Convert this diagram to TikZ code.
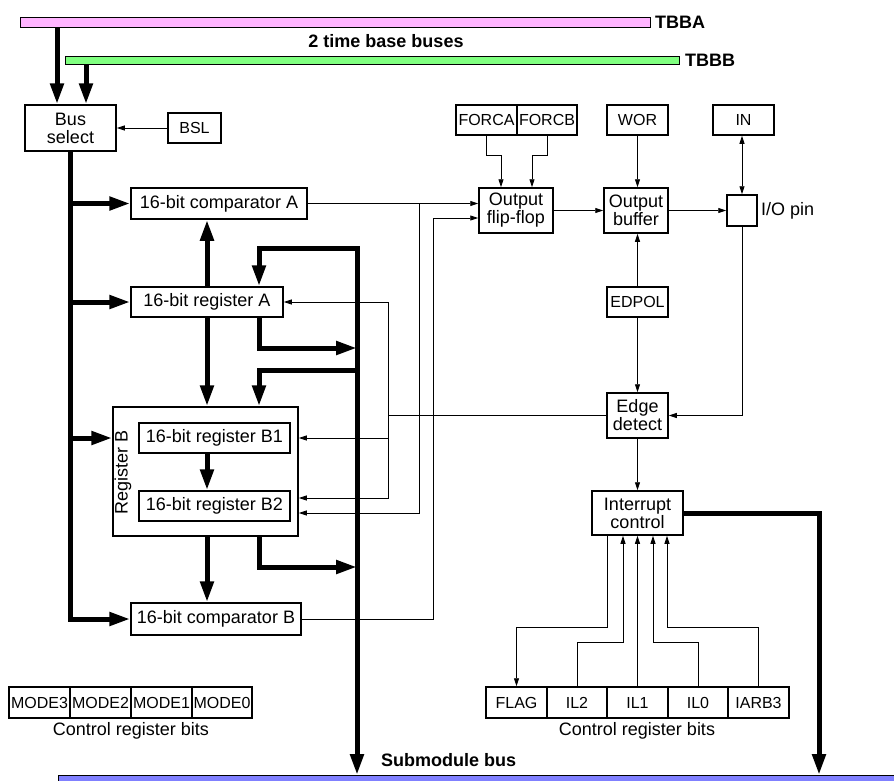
\documentclass[tikz,border=0pt]{standalone}
\usepackage{fontspec}
\setmainfont{Liberation Sans}
\usetikzlibrary{arrows.meta}
\definecolor{busA}{RGB}{255,180,255}
\definecolor{busB}{RGB}{128,255,128}
\definecolor{busS}{RGB}{128,128,255}
\newcommand\fsA{\fontsize{18}{18}\selectfont}
\newcommand\fsB{\fontsize{16}{16}\selectfont}
\newcommand\fsL{\fontsize{18}{18}\selectfont\bfseries}
\begin{document}
\begin{tikzpicture}[x=1pt,y=-1pt,
  blk/.style={draw,line width=1.5pt,inner sep=0pt,font=\fsA,align=center},
  bit/.style={draw,line width=1.5pt,inner sep=0pt,font=\fsB,minimum width=61pt,minimum height=31pt},
  tk/.style={line width=5pt,-{Triangle[length=21pt,width=13pt]}},
  tkb/.style={line width=5pt,{Triangle[length=21pt,width=13pt]}-{Triangle[length=21pt,width=13pt]}},
  tn/.style={line width=0.9pt,-{Triangle[length=8pt,width=5pt]}},
  tnb/.style={line width=0.9pt,{Triangle[length=8pt,width=5pt]}-{Triangle[length=8pt,width=5pt]}},
  ln/.style={line width=0.9pt},
  lbl/.style={font=\fsA,inner sep=0pt},
  blbl/.style={font=\fsL,inner sep=0pt}]
\useasboundingbox (0,0) rectangle (894,780);

% buses
\draw[line width=1pt,fill=busA] (20,17) rectangle (650,27);
\draw[line width=1pt,fill=busB] (65,56) rectangle (679,64);
\begin{scope}
\clip (0,0) rectangle (894,780);
\draw[line width=1pt,fill=busS] (58,775) rectangle (900,790);
\end{scope}
\node[blbl,anchor=west] (tbba) at (655,22) {TBBA};
\node[blbl,anchor=west] (tbbb) at (685,60) {TBBB};
\node[blbl] (tbl) at (386,41) {2 time base buses};
\node[blbl,anchor=west] (sbl) at (381,760) {Submodule bus};

% left blocks
\node[blk,minimum width=91pt,minimum height=46pt] (bussel) at (70.5,128) {Bus\\select};
\node[blk,minimum width=53pt,minimum height=30pt,font=\fsB] (bsl) at (194.5,128) {BSL};
\node[blk,minimum width=176pt,minimum height=31pt] (compA) at (219,203.5) {16-bit comparator A};
\node[blk,minimum width=152pt,minimum height=30pt] (regA) at (207,302) {16-bit register A};
\node[blk,minimum width=185pt,minimum height=129pt] (regB) at (205.5,471.5) {};
\node[blk,minimum width=151pt,minimum height=30pt] (b1) at (214.5,438) {16-bit register B1};
\node[blk,minimum width=151pt,minimum height=30pt] (b2) at (214.5,506) {16-bit register B2};
\node[blk,minimum width=170pt,minimum height=32pt] (compB) at (216,619) {16-bit comparator B};
\node[lbl,rotate=90] (rbl) at (123,472) {Register B};

% right blocks
\node[blk,minimum width=61pt,minimum height=30pt,font=\fsB] (forca) at (486.5,120) {FORCA};
\node[blk,minimum width=60pt,minimum height=30pt,font=\fsB] (forcb) at (547,120) {FORCB};
\node[blk,minimum width=61pt,minimum height=30pt,font=\fsB] (wor) at (637.5,120) {WOR};
\node[blk,minimum width=61pt,minimum height=30pt,font=\fsB] (innode) at (743.5,120) {IN};
\node[blk,minimum width=74pt,minimum height=45pt] (off) at (516,210.5) {Output\\flip-flop};
\node[blk,minimum width=64pt,minimum height=45pt] (obuf) at (636,210.5) {Output\\buffer};
\node[blk,minimum width=30pt,minimum height=31pt] (iopin) at (742,210.5) {};
\node[lbl,anchor=west] (iol) at (761,211) {I/O pin};
\node[blk,minimum width=61pt,minimum height=30pt,font=\fsB] (edpol) at (637.5,302) {EDPOL};
\node[blk,minimum width=61pt,minimum height=45pt] (edge) at (637.5,415.5) {Edge\\detect};
\node[blk,minimum width=91pt,minimum height=44pt] (intc) at (637.5,513) {Interrupt\\control};

% control bits
\node[bit] (flag) at (516.5,702.5) {FLAG};
\node[bit,minimum width=60pt] (il2) at (577,702.5) {IL2};
\node[bit] (il1) at (637.5,702.5) {IL1};
\node[bit,minimum width=60pt] (il0) at (698,702.5) {IL0};
\node[bit] (iarb) at (758.5,702.5) {IARB3};
\node[lbl] (crb2) at (637,731) {Control register bits};
\node[bit] (m3) at (39.5,702.5) {MODE3};
\node[bit] (m2) at (100.5,702.5) {MODE2};
\node[bit] (m1) at (161.5,702.5) {MODE1};
\node[bit,minimum width=60pt] (m0) at (222,702.5) {MODE0};
\node[lbl] (crb1) at (131,731) {Control register bits};

% coordinates
\coordinate (ta1) at (57,27);
\coordinate (tb1) at (86,64);
\coordinate (s1) at (357,248);
\coordinate (s2) at (259,248);
\coordinate (s3) at (357,370);
\coordinate (s4) at (259,370);
\coordinate (s5) at (259,348);
\coordinate (s6) at (357,348);
\coordinate (s7) at (259,567);
\coordinate (s8) at (357,567);
\coordinate (sb1) at (357,775);
\coordinate (t1) at (819,513);
\coordinate (t2) at (819,775);
\coordinate (a1) at (388,302);
\coordinate (a2) at (388,415.5);
\coordinate (a3) at (388,438);
\coordinate (a4) at (388,498);
\coordinate (pa) at (419,203.5);
\coordinate (pb) at (419,513);
\coordinate (qa) at (433,619);
\coordinate (qb) at (433,218);
\coordinate (fa1) at (486.5,155);
\coordinate (fa2) at (501,155);
\coordinate (fb1) at (547,155);
\coordinate (fb2) at (532,155);
\coordinate (f1) at (607,627);
\coordinate (f2) at (516.5,627);
\coordinate (g1) at (577,642);
\coordinate (g2) at (623,642);
\coordinate (h1) at (698,642);
\coordinate (h2) at (653,642);
\coordinate (k1) at (758.5,627);
\coordinate (k2) at (667,627);

% thick connectors
\draw[tk] (ta1) -- (ta1 |- bussel.north);
\draw[tk] (tb1) -- (tb1 |- bussel.north);
\draw[tk] (bussel.south) -- (bussel.south |- compB.west) -- (compB.west);
\draw[tk] (bussel.south |- compA.west) -- (compA.west);
\draw[tk] (bussel.south |- regA.west) -- (regA.west);
\draw[tk] (bussel.south |- b1.west) -- (regB.west |- b1.west);
\draw[tk] (regA.north) -- (regA.north |- compA.south);
\draw[tk] (regA.south) -- (regA.south |- regB.north);
\draw[tk] (regA.south |- b1.south) -- (regA.south |- b2.north);
\draw[tk] (regA.south |- regB.south) -- (regA.south |- compB.north);
\draw[tkb] (regA.north -| s2) -- (s2) -- (s1) -- (sb1);
\draw[tk] (s3) -- (s4) -- (regB.north -| s4);
\draw[tk] (regA.south -| s5) -- (s5) -- (s6);
\draw[tk] (regB.south -| s7) -- (s7) -- (s8);
\draw[tk] (intc.east) -- (t1) -- (t2);

% thin connectors
\draw[tn] (bsl.west) -- (bussel.east);
\draw[tn] (compA.east) -- (off.west |- compA.east);
\draw[tn] (pa) -- (pb) -- (regB.east |- pb);
\draw[ln] (edge.west) -- (a2);
\draw[tn] (a1) -- (regA.east);
\draw[tn] (a1) -- (a4) -- (regB.east |- a4);
\draw[tn] (a3) -- (regB.east |- a3);
\draw[tn] (compB.east) -- (qa) -- (qb) -- (off.west |- qb);
\draw[tn] (forca.south) -- (fa1) -- (fa2) -- (off.north -| fa2);
\draw[tn] (forcb.south) -- (fb1) -- (fb2) -- (off.north -| fb2);
\draw[tn] (wor.south) -- (wor.south |- obuf.north);
\draw[tn] (off.east) -- (obuf.west);
\draw[tn] (obuf.east) -- (iopin.west);
\draw[tnb] (iopin.north) -- (iopin.north |- innode.south);
\draw[tn] (iopin.south) |- (edge.east);
\draw[tn] (edpol.north) -- (edpol.north |- obuf.south);
\draw[tn] (edpol.south) -- (edge.north);
\draw[tn] (edge.south) -- (intc.north);
\draw[tn] (intc.south -| f1) -- (f1) -- (f2) -- (flag.north);
\draw[tn] (il2.north) -- (g1) -- (g2) -- (g2 |- intc.south);
\draw[tn] (il1.north) -- (il1.north |- intc.south);
\draw[tn] (il0.north) -- (h1) -- (h2) -- (h2 |- intc.south);
\draw[tn] (iarb.north) -- (k1) -- (k2) -- (k2 |- intc.south);
\end{tikzpicture}
\end{document}
